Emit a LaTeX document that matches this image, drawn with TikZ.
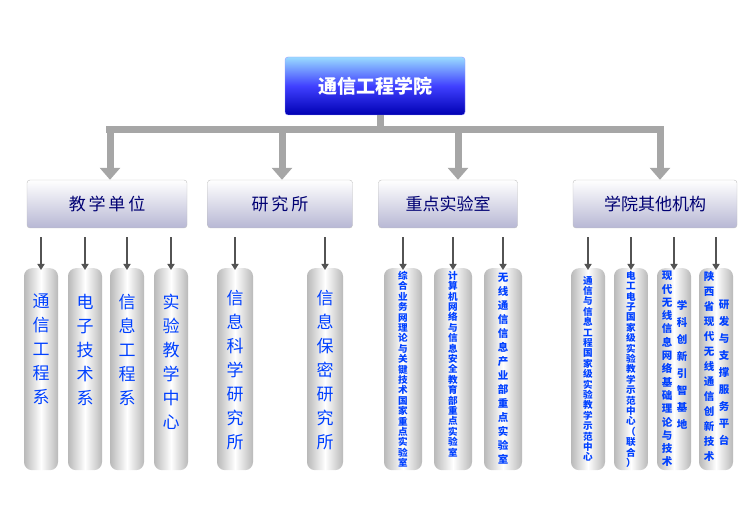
\documentclass[tikz,border=0pt]{standalone}
\usepackage{fontspec}
\setmainfont{Noto Sans CJK SC}
\usetikzlibrary{arrows.meta}
\begin{document}
\begin{tikzpicture}[x=1pt,y=-1pt, every node/.style={font=\small}]
  % -----------------------------
  % STYLES
  % -----------------------------
  \tikzset{
    topbox/.style={rounded corners=3pt, minimum width=180pt, minimum height=58pt,
      top color=blue!35!cyan!40, bottom color=blue!70!black, middle color=blue!75,
      text=white, font=\fontsize{19}{19}\selectfont\bfseries, draw=blue!40},
    midbox/.style={rounded corners=3pt, minimum height=48pt, draw=gray!50,
      top color=white, bottom color=blue!25!gray!45, text=blue!45!black,
      font=\fontsize{17}{17}\selectfont},
    colbox/.style={rounded corners=8pt, minimum height=202pt, anchor=north,
      shading=axis, left color=gray!55, right color=gray!55, middle color=white, shading angle=90},
    coltxt/.style={anchor=north, align=center, inner sep=0pt, text=blue!75!cyan},
    bigtxt/.style={coltxt, font=\fontsize{17}{24}\selectfont},
    smtxt/.style={coltxt, font=\fontsize{9.6}{10.4}\selectfont\bfseries},
    mdtxt/.style={coltxt, font=\fontsize{10.5}{14}\selectfont\bfseries},
    bigarr/.style={gray!70, line width=7pt, -{Triangle[width=20pt,length=12pt]}},
    smarr/.style={gray!65!black, line width=2.2pt, -{Triangle[width=7pt,length=6pt]}},
  }
  \useasboundingbox (0,0) rectangle (750,526);

  % -----------------------------
  % TOP + SECOND LEVEL
  % -----------------------------
  \node[topbox] (top) at (375,86) {通信工程学院};
  \coordinate (bar) at (380,130);
  \draw[gray!70, line width=7pt] (top.south -| bar) -- (bar);
  \draw[gray!70, line width=7pt] (106,130) -- (664,130);

  \node[midbox, minimum width=160pt] (jx) at (107,204) {教\,学\,单\,位};
  \node[midbox, minimum width=145pt] (yj) at (280,204) {研\,究\,所};
  \node[midbox, minimum width=139pt] (zd) at (448,204) {重点实验室};
  \node[midbox, minimum width=164pt] (qt) at (655,204) {学院其他机构};

  \foreach \n/\x in {jx/110, yj/282, zd/458, qt/660}
    \draw[bigarr] (\x,130) -- (\x,130 |- \n.north);

  % -----------------------------
  % COLUMNS
  % -----------------------------
  \foreach \n/\x/\w in {a/41/34, b/85/34, c/127/34, d/171/34, e/235/36, f/325/36,
                        g/403/38, h/453/38, i/503/38, j/588/34, k/631/34, l/674/34, m/716/34}
    \node[colbox, minimum width=\w pt] (\n) at (\x,268) {};

  \foreach \p/\n in {jx/a, jx/b, jx/c, jx/d, yj/e, yj/f, zd/g, zd/h, zd/i, qt/j, qt/k, qt/l, qt/m}
    \draw[smarr] ([yshift=-9pt]\p.south -| \n.north) -- ([yshift=-2pt]\n.north);

  \node[bigtxt] at ([yshift=-26pt]a.north) {通\\信\\工\\程\\系};
  \node[bigtxt] at ([yshift=-26pt]b.north) {电\\子\\技\\术\\系};
  \node[bigtxt] at ([yshift=-26pt]c.north) {信\\息\\工\\程\\系};
  \node[bigtxt] at ([yshift=-26pt]d.north) {实\\验\\教\\学\\中\\心};
  \node[bigtxt] at ([yshift=-22pt]e.north) {信\\息\\科\\学\\研\\究\\所};
  \node[bigtxt] at ([yshift=-22pt]f.north) {信\\息\\保\\密\\研\\究\\所};

  \node[smtxt] at ([yshift=-3pt]g.north) {综\\合\\业\\务\\网\\理\\论\\与\\关\\键\\技\\术\\国\\家\\重\\点\\实\\验\\室};
  \node[smtxt] at ([yshift=-3pt]h.north) {计\\算\\机\\网\\络\\与\\信\\息\\安\\全\\教\\育\\部\\重\\点\\实\\验\\室};
  \node[mdtxt] at ([yshift=-5pt]i.north) {无\\线\\通\\信\\信\\息\\产\\业\\部\\重\\点\\实\\验\\室};
  \node[smtxt] at ([yshift=-8pt]j.north) {通\\信\\与\\信\\息\\工\\程\\国\\家\\级\\实\\验\\教\\学\\示\\范\\中\\心};
  \node[smtxt] at ([yshift=-3pt]k.north) {电\\工\\电\\子\\国\\家\\级\\实\\验\\教\\学\\示\\范\\中\\心\\（\\联\\合\\）};
  \node[mdtxt, font=\fontsize{10.5}{13.3}\selectfont\bfseries] at ([xshift=-7pt,yshift=-3pt]l.north) {现\\代\\无\\线\\信\\息\\网\\络\\基\\础\\理\\论\\与\\技\\术};
  \node[mdtxt, font=\fontsize{10.5}{17}\selectfont\bfseries] at ([xshift=8pt,yshift=-32pt]l.north) {学\\科\\创\\新\\引\\智\\基\\地};
  \node[mdtxt, font=\fontsize{10.5}{15}\selectfont\bfseries] at ([xshift=-7pt,yshift=-3pt]m.north) {陕\\西\\省\\现\\代\\无\\线\\通\\信\\创\\新\\技\\术};
  \node[mdtxt, font=\fontsize{10.5}{17}\selectfont\bfseries] at ([xshift=8pt,yshift=-32pt]m.north) {研\\发\\与\\支\\撑\\服\\务\\平\\台};
\end{tikzpicture}
\end{document}
